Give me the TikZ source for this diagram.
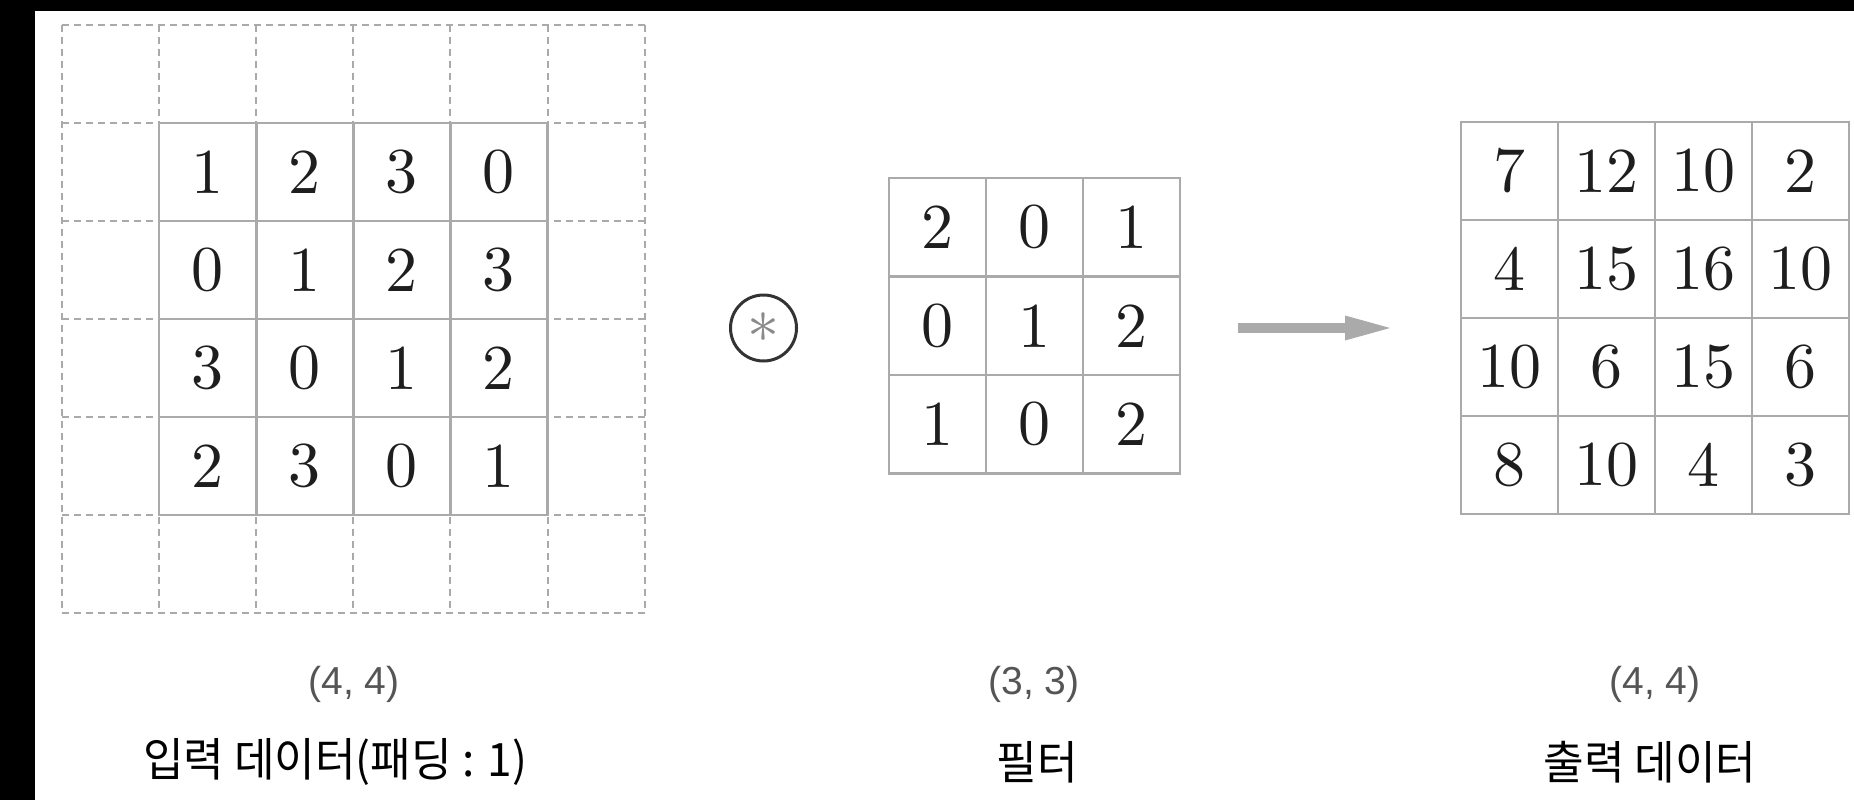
\documentclass[tikz,border=0pt]{standalone}
\usepackage{fontspec}
\newfontfamily\krfont{Noto Sans CJK KR}[FakeStretch=0.96]
\newfontfamily\sizefont{Liberation Sans}
\newfontfamily\numfont{lmroman10-regular.otf}
\usetikzlibrary{arrows.meta}
\definecolor{gridgray}{HTML}{AAAAAA}
\definecolor{numcol}{HTML}{1E1E1E}
\definecolor{dimcol}{HTML}{555555}
\definecolor{circcol}{HTML}{333333}
\definecolor{astcol}{HTML}{8A8A8A}
\tikzset{
  cellbox/.style={draw=gridgray, line width=2.6pt, fill=white, inner sep=0pt,
    minimum width=97.1pt, minimum height=98pt, text=numcol,
    font=\numfont\fontsize{64}{70}\selectfont},
  filtbox/.style={cellbox, minimum width=97pt, minimum height=98.5pt},
  padline/.style={draw=gridgray, line width=2pt, dash pattern=on 7pt off 5pt},
  sizelabel/.style={text=dimcol, font=\sizefont\fontsize{39}{44}\selectfont, inner sep=0pt},
  namelabel/.style={text=black, font=\krfont\fontsize{46}{50}\selectfont, inner sep=0pt},
  flowarrow/.style={draw=gridgray, line width=10.6pt,
    -{Triangle[length=45pt, width=25pt, line width=0pt]}},
}
\begin{document}
\begin{tikzpicture}[x=1pt, y=-1pt]
\useasboundingbox (0,0) rectangle (1854,800);
\fill[white] (0,0) rectangle (1854,800);
\fill[black] (0,0) rectangle (35,800);
\fill[black] (0,0) rectangle (1854,11);

% padded input: dashed grid
\foreach \k in {0,...,6} {
  \draw[padline] ({62+97.1*\k},25) -- ({62+97.1*\k},613);
  \draw[padline] (62,{25+98*\k}) -- (644.6,{25+98*\k});
}
% input data 4x4
\foreach \row [count=\j] in {{1,2,3,0},{0,1,2,3},{3,0,1,2},{2,3,0,1}} {
  \foreach \v [count=\i] in \row {
    \node[cellbox] (in-\i-\j) at ({62+97.1*(\i+0.5)},{25+98*(\j+0.5)}) {\v};
  }
}

% convolution symbol
\node[circle, draw=circcol, line width=3pt, minimum size=66pt, inner sep=0pt] (conv) at (763.5,328) {};
\node[text=astcol, scale=6.4, inner sep=0pt] (ast) at (conv.center) {$\ast$};

% filter 3x3
\foreach \row [count=\j] in {{2,0,1},{0,1,2},{1,0,2}} {
  \foreach \v [count=\i] in \row {
    \node[filtbox] (f-\i-\j) at ({889+97*(\i-0.5)},{178+98.5*(\j-0.5)}) {\v};
  }
}

% arrow
\coordinate (astart) at (1238,328);
\coordinate (aend) at (1390,328);
\draw[flowarrow] (astart) -- (aend);

% output 4x4
\foreach \row [count=\j] in {{7,12,10,2},{4,15,16,10},{10,6,15,6},{8,10,4,3}} {
  \foreach \v [count=\i] in \row {
    \node[cellbox] (out-\i-\j) at ({1461+97*(\i-0.5)},{122+98*(\j-0.5)}) {\v};
  }
}

% labels
\node[sizelabel] (insize) at (354,684) {(4, 4)};
\node[namelabel] (inname) at (335,762) {입력 데이터(패딩 : 1)};
\node[sizelabel] (fsize) at (1034,684) {(3, 3)};
\node[namelabel] (fname) at (1037,762) {필터};
\node[sizelabel] (outsize) at (1655,684) {(4, 4)};
\node[namelabel] (outname) at (1650,762) {출력 데이터};
\end{tikzpicture}
\end{document}
